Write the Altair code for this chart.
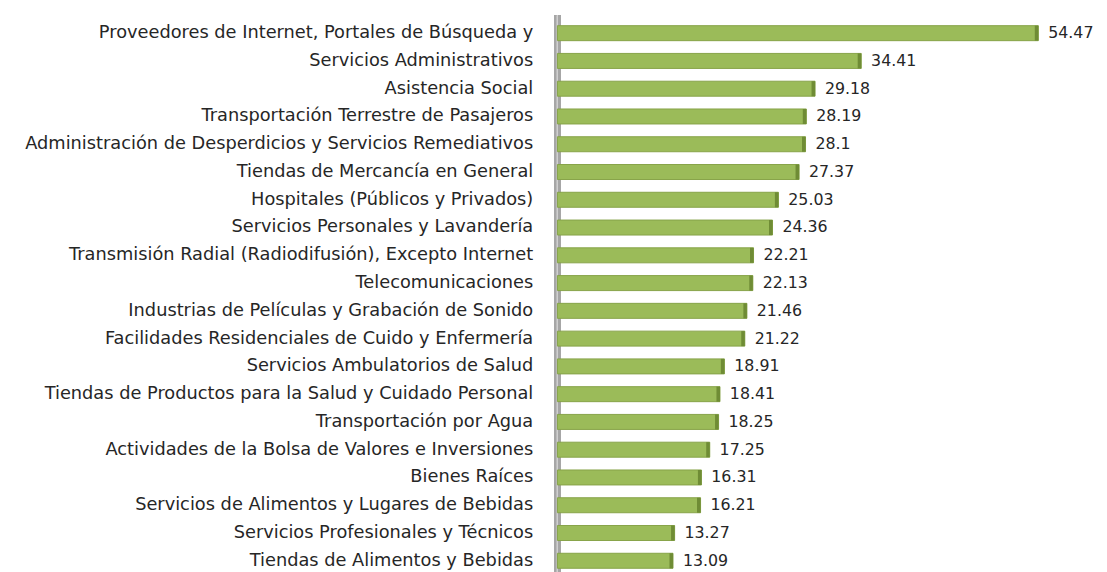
import altair as alt
import pandas as pd

categories = [
    "Proveedores de Internet, Portales de Búsqueda y",
    "Servicios Administrativos",
    "Asistencia Social",
    "Transportación Terrestre de Pasajeros",
    "Administración de Desperdicios y Servicios Remediativos",
    "Tiendas de Mercancía en General",
    "Hospitales (Públicos y Privados)",
    "Servicios Personales y Lavandería",
    "Transmisión Radial (Radiodifusión), Excepto Internet",
    "Telecomunicaciones",
    "Industrias de Películas y Grabación de Sonido",
    "Facilidades Residenciales de Cuido y Enfermería",
    "Servicios Ambulatorios de Salud",
    "Tiendas de Productos para la Salud y Cuidado Personal",
    "Transportación por Agua",
    "Actividades de la Bolsa de Valores e Inversiones",
    "Bienes Raíces",
    "Servicios de Alimentos y Lugares de Bebidas",
    "Servicios Profesionales y Técnicos",
    "Tiendas de Alimentos y Bebidas",
]
values = [54.47, 34.41, 29.18, 28.19, 28.1, 27.37, 25.03, 24.36, 22.21, 22.13,
          21.46, 21.22, 18.91, 18.41, 18.25, 17.25, 16.31, 16.21, 13.27, 13.09]

df = pd.DataFrame({"cat": categories, "val": values})
df["cap"] = df["val"] - 0.4

W, H = 536, 562
FONT = "DejaVu Sans"

xscale = alt.Scale(domain=[0, 60], nice=False)
x = alt.X("val:Q", scale=xscale, axis=None)
y = alt.Y("cat:N", sort=categories, scale=alt.Scale(paddingInner=0.46, paddingOuter=0.23),
          axis=alt.Axis(title=None, ticks=False, domain=False, labelPadding=25,
                        labelFontSize=18, labelFont=FONT, labelColor="#262626",
                        labelLimit=700))

base = alt.Chart(df)

wall = base.mark_rule(color="#a6a6a6", strokeWidth=6).encode(
    x=alt.X(datum=0, scale=xscale, axis=None), y=alt.value(-4), y2=alt.value(H)
)
wall_edge = base.mark_rule(color="#d0d0d0", strokeWidth=1).encode(
    x=alt.X(datum=0, scale=xscale, axis=None), y=alt.value(-4), y2=alt.value(H)
)

bars = base.mark_bar(color="#9bbb59", stroke="#86a348", strokeWidth=1).encode(x=x, y=y)

cap = base.mark_bar(color="#6f8c35").encode(
    x=alt.X("cap:Q", scale=xscale, axis=None), x2="val:Q", y=y
)

labels = base.mark_text(align="left", dx=10, font=FONT, fontSize=16, color="#262626").encode(
    x=x, y=y, text=alt.Text("val:Q", format=".2~f")
)

chart = alt.layer(wall, wall_edge, bars, cap, labels).properties(
    width=W, height=H,
    padding={"left": 16, "top": 1, "right": 5, "bottom": 0},
    background="white",
).configure_view(strokeWidth=0)

chart.save("out.html", embed_options={"renderer": "svg", "actions": False})
